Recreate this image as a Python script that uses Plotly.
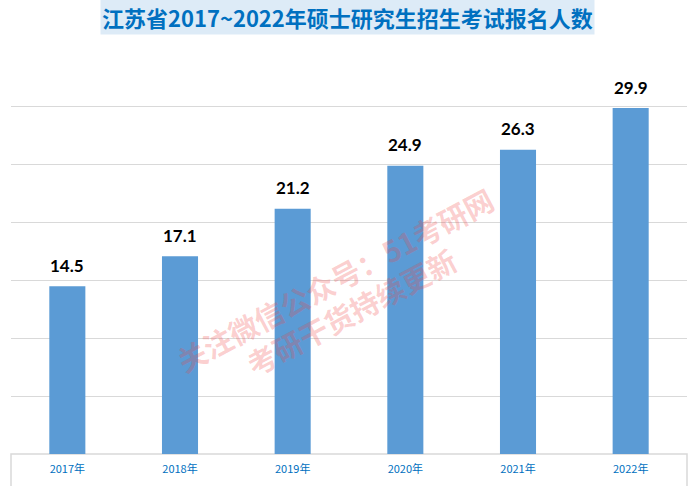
import plotly.graph_objects as go

categories = ["2017年", "2018年", "2019年", "2020年", "2021年", "2022年"]
values = [14.5, 17.1, 21.2, 24.9, 26.3, 29.9]
title_text = "江苏省2017~2022年硕士研究生招生考试报名人数"
watermark_lines = ["关注微信公众号：51考研网", "考研干货持续更新"]

BAR_COLOR = "#5B9BD5"
GRID = "#D9D9D9"
BLUE_TEXT = "#0070C0"

fig = go.Figure()
fig.add_trace(go.Bar(
    x=categories, y=values,
    marker=dict(color=BAR_COLOR, line=dict(width=0)),
    hoverinfo="skip",
))

annotations = []
for c, v in zip(categories, values):
    annotations.append(dict(
        x=c, y=v, xref="x", yref="y", text=f"<b>{v}</b>",
        showarrow=False, yanchor="middle", yshift=21,
        font=dict(family="Lato, Liberation Sans, sans-serif", size=17, color="#000000"),
    ))

annotations.append(dict(
    x=0.498, y=1.078, xref="paper", yref="paper",
    text=f"<b>{title_text}</b>", showarrow=False,
    xanchor="center", yanchor="middle",
    font=dict(family="Noto Sans CJK SC", size=22, color=BLUE_TEXT),
    bgcolor="#DDEBF7", borderpad=1,
))

wm_pos = [(0.479, 0.432), (0.503, 0.353)]
for t, (px, py) in zip(watermark_lines, wm_pos):
    annotations.append(dict(
        x=px, y=py, xref="paper", yref="paper", text=f"<b>{t}</b>", showarrow=False,
        xanchor="center", yanchor="middle", textangle=-28,
        font=dict(family="Noto Sans CJK SC", size=29, color="rgba(240,70,70,0.26)"),
    ))

fig.update_layout(
    width=691, height=486,
    margin=dict(l=11, r=4, t=49, b=32),
    paper_bgcolor="white", plot_bgcolor="white",
    showlegend=False,
    bargap=0.68,
    annotations=annotations,
    shapes=[dict(type="rect", xref="paper", yref="paper",
                 x0=0, x1=1, y0=0, y1=-0.2,
                 line=dict(color=GRID, width=1.5), layer="below")],
    xaxis=dict(
        showgrid=False, showline=False, zeroline=False, ticks="",
        tickfont=dict(family="Noto Sans CJK SC", size=11, color=BLUE_TEXT),
        ticklabelstandoff=7,
    ),
    yaxis=dict(
        range=[0, 35], dtick=5, showticklabels=False, showgrid=True,
        gridcolor=GRID, gridwidth=1, zeroline=False, showline=False,
    ),
)

fig.write_html("out.html")
